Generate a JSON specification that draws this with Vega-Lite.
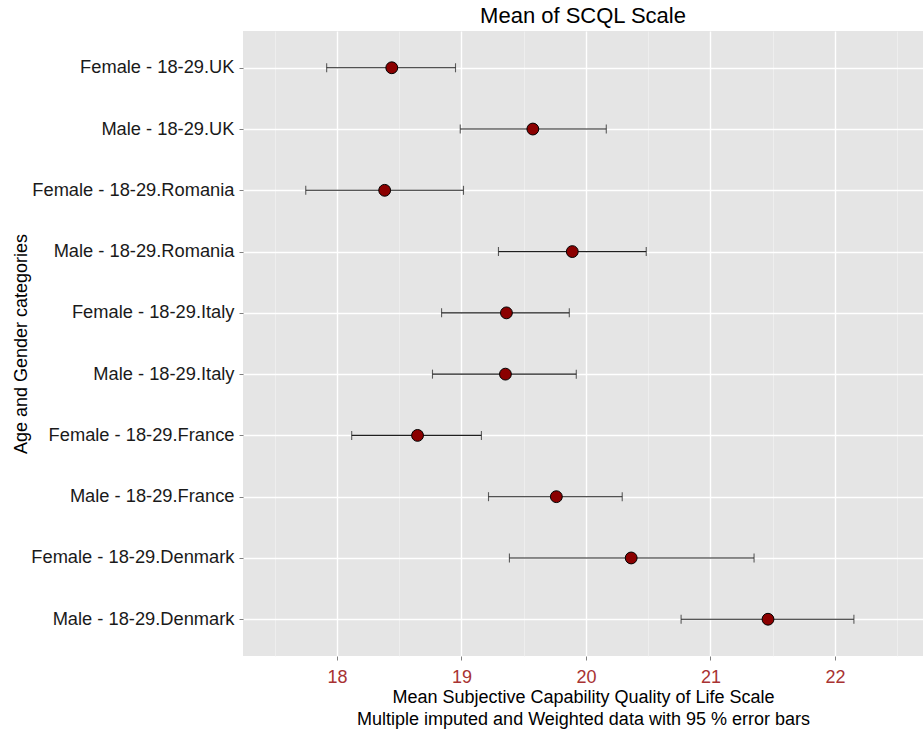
{
  "$schema": "https://vega.github.io/schema/vega-lite/v6.json",
  "autosize": {"type": "none"},
  "padding": {"left": 243, "top": 31, "right": 0, "bottom": 75},
  "width": 680,
  "height": 625,
  "background": "white",
  "title": {"text": "Mean of SCQL Scale", "fontSize": 22, "font": "Liberation Sans", "fontWeight": "normal", "color": "#000000", "anchor": "middle", "offset": 3},
  "data": {"values": [
    {"group": "Female - 18-29.UK", "mean": 18.44, "lo": 17.917, "hi": 18.952},
    {"group": "Male - 18-29.UK", "mean": 19.573, "lo": 18.99, "hi": 20.163},
    {"group": "Female - 18-29.Romania", "mean": 18.383, "lo": 17.749, "hi": 19.016},
    {"group": "Male - 18-29.Romania", "mean": 19.89, "lo": 19.297, "hi": 20.484},
    {"group": "Female - 18-29.Italy", "mean": 19.361, "lo": 18.84, "hi": 19.866},
    {"group": "Male - 18-29.Italy", "mean": 19.353, "lo": 18.767, "hi": 19.922},
    {"group": "Female - 18-29.France", "mean": 18.647, "lo": 18.118, "hi": 19.16},
    {"group": "Male - 18-29.France", "mean": 19.762, "lo": 19.217, "hi": 20.291},
    {"group": "Female - 18-29.Denmark", "mean": 20.363, "lo": 19.385, "hi": 21.35},
    {"group": "Male - 18-29.Denmark", "mean": 21.462, "lo": 20.764, "hi": 22.152}
  ]},
  "encoding": {
    "y": {
      "field": "group", "type": "nominal", "sort": null,
      "scale": {"type": "point", "padding": 0.6},
      "axis": {
        "title": "Age and Gender categories",
        "titleFont": "Liberation Sans", "titleFontSize": 18, "titleFontWeight": "normal", "titleColor": "#000000", "titlePadding": 13,
        "labelFont": "Liberation Sans", "labelFontSize": 18.3, "labelColor": "#1a1a1a", "labelPadding": 5, "labelLimit": 400,
        "tickColor": "#7f7f7f", "tickSize": 4, "tickWidth": 1,
        "domain": false,
        "grid": true, "gridColor": "#FFFFFF", "gridWidth": 1.4
      }
    }
  },
  "layer": [
    {
      "mark": {"type": "rule", "color": "#1f1f1f", "strokeWidth": 1.1},
      "encoding": {
        "x": {
          "field": "lo", "type": "quantitative",
          "scale": {"domain": [17.245, 22.707], "nice": false, "zero": false},
          "axis": {
            "title": ["Mean Subjective Capability Quality of Life Scale", "Multiple imputed and Weighted data with 95 % error bars"],
            "titleFont": "Liberation Sans", "titleFontSize": 18, "titleFontWeight": "normal", "titleColor": "#000000", "titlePadding": 2, "titleLineHeight": 22,
            "values": [17.5, 18, 18.5, 19, 19.5, 20, 20.5, 21, 21.5, 22, 22.5],
            "labelExpr": "datum.value % 1 === 0 ? format(datum.value, 'd') : ''",
            "labelFont": "Liberation Sans", "labelFontSize": 18, "labelColor": "#A83232", "labelPadding": 8,
            "tickColor": {"condition": {"test": "datum.value % 1 === 0", "value": "#7f7f7f"}, "value": "transparent"},
            "tickSize": 4, "tickWidth": 1,
            "domain": false,
            "grid": true,
            "gridColor": {"condition": {"test": "datum.value % 1 === 0", "value": "#FFFFFF"}, "value": "#F2F2F2"},
            "gridWidth": {"condition": {"test": "datum.value % 1 === 0", "value": 1.4}, "value": 0.7}
          }
        },
        "x2": {"field": "hi"}
      }
    },
    {
      "mark": {"type": "tick", "color": "#1f1f1f", "thickness": 1.1, "size": 9, "orient": "vertical"},
      "encoding": {"x": {"field": "lo", "type": "quantitative"}}
    },
    {
      "mark": {"type": "tick", "color": "#1f1f1f", "thickness": 1.1, "size": 9, "orient": "vertical"},
      "encoding": {"x": {"field": "hi", "type": "quantitative"}}
    },
    {
      "mark": {"type": "point", "filled": true, "fill": "#8B0000", "stroke": "#000000", "strokeWidth": 1, "size": 140, "opacity": 1, "shape": "circle"},
      "encoding": {"x": {"field": "mean", "type": "quantitative"}}
    }
  ],
  "config": {
    "view": {"fill": "#E5E5E5", "stroke": null}
  }
}
